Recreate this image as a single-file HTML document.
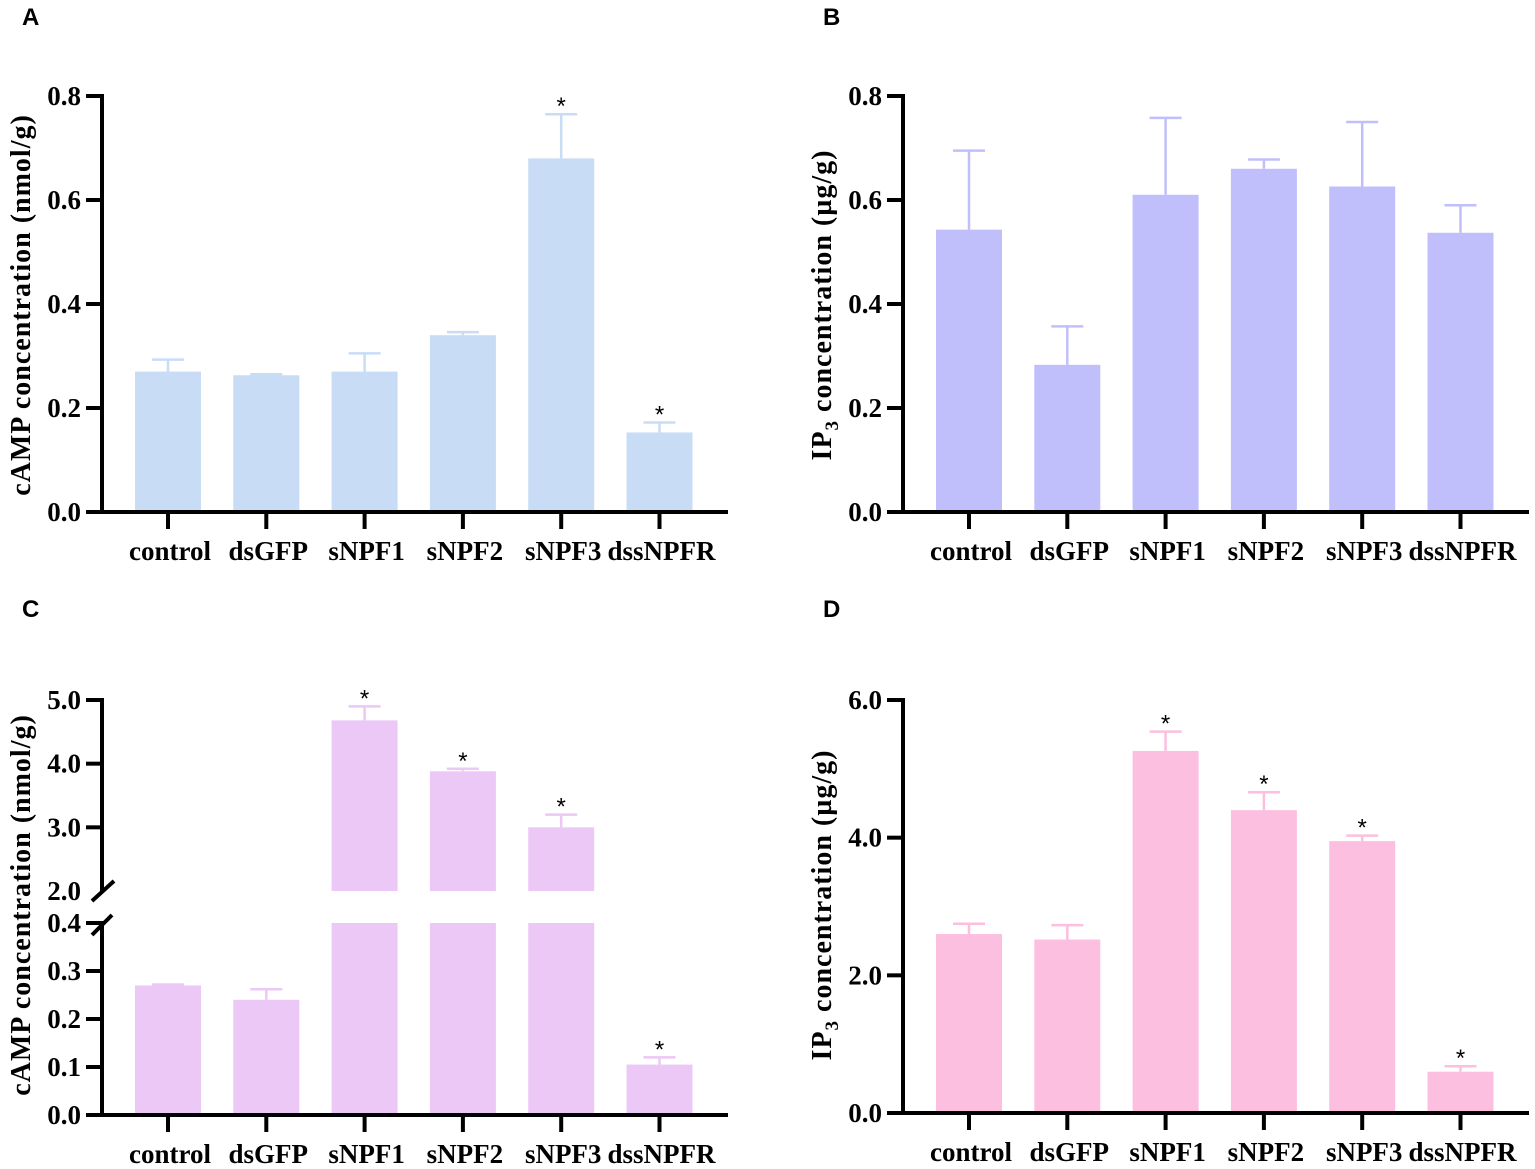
<!DOCTYPE html>
<html><head><meta charset="utf-8"><style>
html,body{margin:0;padding:0;background:#fff;}
svg{display:block;font-family:"Liberation Serif",serif;}
.lt{font-family:"Liberation Sans",sans-serif;font-weight:bold;font-size:24px;}
</style></head><body>
<svg id="s" width="1535" height="1169"></svg>
<script>
const categories=["control","dsGFP","sNPF1","sNPF2","sNPF3","dssNPFR"];
const aValues=[0.27,0.263,0.27,0.34,0.68,0.153];
const aErr=[0.293,0.265,0.305,0.346,0.765,0.172];
const aStar=[0,0,0,0,1,1];
const bValues=[0.543,0.283,0.61,0.66,0.626,0.537];
const bErr=[0.695,0.357,0.758,0.678,0.75,0.59];
const bStar=[0,0,0,0,0,0];
const cValues=[0.27,0.24,4.68,3.88,3.0,0.105];
const cErr=[0.272,0.262,4.9,3.92,3.2,0.12];
const cStar=[0,0,1,1,1,1];
const dValues=[2.6,2.52,5.26,4.4,3.95,0.6];
const dErr=[2.75,2.73,5.54,4.66,4.03,0.68];
const dStar=[0,0,1,1,1,1];
const abTicks=["0.0","0.2","0.4","0.6","0.8"];
const cLowTicks=["0.0","0.1","0.2","0.3","0.4"];
const cHighTicks=["2.0","3.0","4.0","5.0"];
const dTicks=["0.0","2.0","4.0","6.0"];

const S=document.getElementById('s');
const NS="http://www.w3.org/2000/svg";
function mk(tag,attrs,parent,text){const e=document.createElementNS(NS,tag);for(const k in attrs)e.setAttribute(k,attrs[k]);if(text!==undefined)e.textContent=text;(parent||S).appendChild(e);return e;}

function panel(o){
  const g=mk('g',{});
  
  
  const L=mk('text',{x:o.ax-80,y:o.letterY,class:'lt'},g,o.letter);
  
  const xc=i=>o.ax+66+i*98.3;
  const Y=v=>{for(const s of o.segs){if(v>=s.lo-1e-9&&v<=s.hi+1e-9)return s.yb-(v-s.lo)*(s.yb-s.yt)/(s.hi-s.lo);}
    const top=o.segs[o.segs.length-1];return top.yb-(v-top.lo)*(top.yb-top.yt)/(top.hi-top.lo);};
  categories.forEach((c,i)=>{
    const x=xc(i),v=o.vals[i],e=o.err[i];
    o.segs.forEach(s=>{
      if(v<=s.lo)return;
      const top=Math.min(v,s.hi);
      const yb=s.yb,yt=s.yb-(top-s.lo)*(s.yb-s.yt)/(s.hi-s.lo);
      const r=mk('rect',{x:x-33,y:yt,width:66,height:yb-yt,fill:o.color},g);
      
    });
    const ye=Y(e),yv=Y(v);
    const el=mk('path',{d:`M${x},${yv}V${ye}M${x-16},${ye}H${x+16}`,stroke:o.color,'stroke-width':2.5,fill:'none'},g);
    
    if(o.star[i]){const st=mk('text',{x:x,y:ye+0,'text-anchor':'middle','font-size':24,'font-family':'Liberation Sans,sans-serif'},g,'*');
      }
    const tk=mk('line',{x1:x,x2:x,y1:o.y0,y2:o.y0+17,stroke:'#000','stroke-width':4},g);
    
    const lb=mk('text',{x:x+2,y:o.y0+48,'text-anchor':'middle','font-size':27,'font-weight':'bold'},g,c);
    
  });
  const xa=mk('line',{x1:o.ax-2,x2:o.ax+626,y1:o.y0,y2:o.y0,stroke:'#000','stroke-width':4},g);
  
  o.segs.forEach((s,si)=>{
    const ya=mk('line',{x1:o.ax,x2:o.ax,y1:s.yt-2,y2:s.yb+(si==0?2:-8),stroke:'#000','stroke-width':4},g);
    
    if(si>0){
      mk('line',{x1:o.ax,x2:o.ax,y1:s.yb-8,y2:s.yb,stroke:'#000','stroke-width':4},g);
    }
    s.ticks.forEach(t=>{
      const v=parseFloat(t),y=s.yb-(v-s.lo)*(s.yb-s.yt)/(s.hi-s.lo);
      if(!(si>0&&Math.abs(v-s.lo)<1e-9)){
        const tl=mk('line',{x1:o.ax-16,x2:o.ax,y1:y,y2:y,stroke:'#000','stroke-width':4},g);
        
      }
      const tt=mk('text',{x:o.ax-21,y:y+9,'text-anchor':'end','font-size':27,'font-weight':'bold'},g,t);
      
    });
  });
  if(o.segs.length>1){
    const s0=o.segs[0],s1=o.segs[1];
    const br=mk('path',{d:`M${o.ax-10},${s1.yb+10}L${o.ax+12},${s1.yb-10}M${o.ax-10},${s0.yt+12}L${o.ax+10},${s0.yt-8}`,stroke:'#000','stroke-width':4,fill:'none'},g);
    
  }
  const yt=mk('text',{transform:`translate(${o.ax-72},${o.titleY}) rotate(-90)`,'text-anchor':'middle','font-size':28,'font-weight':'bold','letter-spacing':1},g);
  
  if(o.ip3){mk('tspan',{},yt,'IP');mk('tspan',{'font-size':19,dy:7},yt,'3');mk('tspan',{dy:-7},yt,' concentration (µg/g)');}
  else mk('tspan',{},yt,'cAMP concentration (nmol/g)');
}
panel({name:'panel-a',letter:'A',letterY:25,ax:102,y0:512,color:'#c8ddf5',vals:aValues,err:aErr,star:aStar,titleY:305,
  segs:[{lo:0,hi:0.8,yb:512,yt:96,ticks:abTicks}]});
panel({name:'panel-b',letter:'B',letterY:25,ax:903,y0:512,color:'#c0bffc',vals:bValues,err:bErr,star:bStar,titleY:305,ip3:true,
  segs:[{lo:0,hi:0.8,yb:512,yt:96,ticks:abTicks}]});
panel({name:'panel-c',letter:'C',letterY:617,ax:102,y0:1115,color:'#ecc8f6',vals:cValues,err:cErr,star:cStar,titleY:905,
  segs:[{lo:0,hi:0.4,yb:1115,yt:923,ticks:cLowTicks},{lo:2,hi:5,yb:891,yt:700,ticks:cHighTicks}]});
panel({name:'panel-d',letter:'D',letterY:617,ax:903,y0:1113,color:'#fdbfdf',vals:dValues,err:dErr,star:dStar,titleY:905,ip3:true,
  segs:[{lo:0,hi:6,yb:1113,yt:700,ticks:dTicks}]});
</script>
</body></html>
